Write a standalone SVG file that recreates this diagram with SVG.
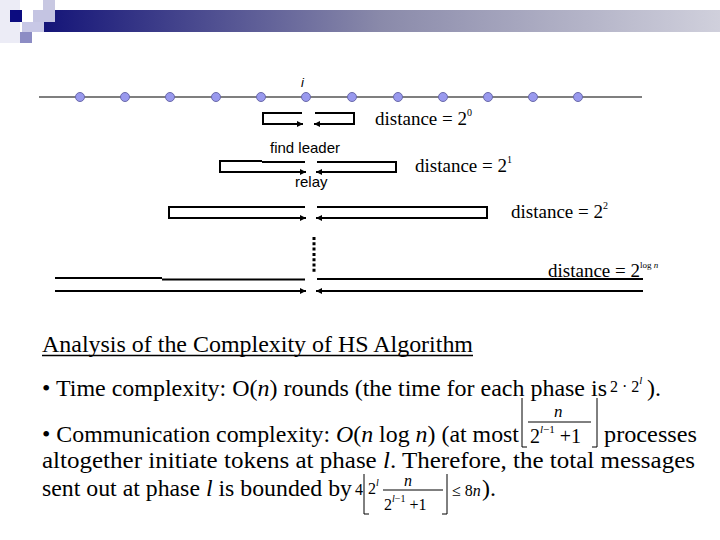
<svg xmlns="http://www.w3.org/2000/svg" width="720" height="540" viewBox="0 0 720 540">
<style>
.ln{fill:none;stroke:#000;stroke-width:2}
.nd{fill:#9999ee;stroke:#6a6aaa;stroke-width:1}
.lab{font-family:"Liberation Sans",Arial,sans-serif;font-size:15px;fill:#000}
.dist{font-family:"Liberation Serif","Times New Roman",serif;font-size:19px;fill:#000}
.sup{font-size:10px}
.tx{font-family:"Liberation Serif","Times New Roman",serif;font-size:24px;fill:#000}
.fm{font-family:"Liberation Serif","Times New Roman",serif;fill:#000}
.br{fill:none;stroke:#000;stroke-width:1}
</style>
<defs>
<linearGradient id="bar" x1="0" y1="0" x2="1" y2="0">
<stop offset="0" stop-color="#141478"/>
<stop offset="0.5" stop-color="#8a8aaa"/>
<stop offset="1" stop-color="#d0d0dc"/>
</linearGradient>
<marker id="ah" markerUnits="userSpaceOnUse" markerWidth="8" markerHeight="8" refX="6" refY="4" orient="auto">
<path d="M0,1 L6,4 L0,7 Z" fill="#000"/>
</marker>
</defs>
<rect width="720" height="540" fill="#fff"/>
<g id="banner">
<rect x="0" y="0" width="20" height="43" fill="#ececf6"/>
<rect x="43" y="10" width="677" height="22" fill="url(#bar)"/>
<rect x="43" y="0" width="12" height="10" fill="#c8c8e2"/>
<rect x="33" y="10" width="22" height="12" fill="#c4c4e2"/>
<rect x="22" y="22" width="22" height="10" fill="#c8c8e6"/>
<rect x="10" y="10" width="12" height="12" fill="#0c0c80"/>
<rect x="20" y="32" width="12" height="11" fill="#8c8cc4"/>
</g>
<g id="ring">
<line x1="39" y1="97" x2="642" y2="97" stroke="#000" stroke-width="1.2"/>
<circle class="nd" cx="80" cy="97" r="4.5"/>
<circle class="nd" cx="125" cy="97" r="4.5"/>
<circle class="nd" cx="170" cy="97" r="4.5"/>
<circle class="nd" cx="216" cy="97" r="4.5"/>
<circle class="nd" cx="261" cy="97" r="4.5"/>
<circle class="nd" cx="306" cy="97" r="4.5"/>
<circle class="nd" cx="352" cy="97" r="4.5"/>
<circle class="nd" cx="398" cy="97" r="4.5"/>
<circle class="nd" cx="443" cy="97" r="4.5"/>
<circle class="nd" cx="488" cy="97" r="4.5"/>
<circle class="nd" cx="533" cy="97" r="4.5"/>
<circle class="nd" cx="578" cy="97" r="4.5"/>
<text x="301" y="87" class="lab" font-style="italic" style="font-size:13px">i</text>
</g>
<g id="connectors">
<path class="ln" d="M302,113 H263 V124 H303" marker-end="url(#ah)"/>
<path class="ln" d="M315,113 H354 V124 H314" marker-end="url(#ah)"/>
<path class="ln" d="M305,162 H262 M262,161 H220 V172 H306" marker-end="url(#ah)"/>
<path class="ln" d="M317,162 H396 V172 H316" marker-end="url(#ah)"/>
<path class="ln" d="M305,207 H169 V218 H306" marker-end="url(#ah)"/>
<path class="ln" d="M317,207 H487 V218 H316" marker-end="url(#ah)"/>
<line x1="314" y1="237" x2="314" y2="274" stroke="#000" stroke-width="3" stroke-dasharray="3,2.3"/>
<path class="ln" d="M55,278 H162 M162,279.5 H305"/>
<path class="ln" d="M55,291 H306" marker-end="url(#ah)"/>
<path class="ln" d="M317,279 H643"/>
<path class="ln" d="M643,291 H316" marker-end="url(#ah)"/>
</g>
<g id="labels">
<text x="270" y="153" class="lab">find leader</text>
<text x="295" y="187" class="lab">relay</text>
<text x="375" y="125" class="dist">distance = 2<tspan class="sup" dy="-9">0</tspan></text>
<text x="415" y="172" class="dist">distance = 2<tspan class="sup" dy="-9">1</tspan></text>
<text x="511" y="218" class="dist">distance = 2<tspan class="sup" dy="-9">2</tspan></text>
<text x="548" y="277" class="dist">distance = 2<tspan font-size="9" dy="-9">log <tspan font-style="italic">n</tspan></tspan></text>
</g>
<g id="analysis">
<text x="42" y="352" class="tx" textLength="431" lengthAdjust="spacingAndGlyphs">Analysis of the Complexity of HS Algorithm</text>
<line x1="42" y1="355.5" x2="473" y2="355.5" stroke="#000" stroke-width="1.3"/>
<text x="42" y="396" class="tx" textLength="565" lengthAdjust="spacingAndGlyphs">• Time complexity: O(<tspan font-style="italic">n</tspan>) rounds (the time for each phase is</text>
<text x="610" y="392" class="fm" style="font-size:16px">2 · 2<tspan font-size="11" font-style="italic" dy="-8">l</tspan></text>
<text x="647" y="396" class="tx">).</text>
<text x="42" y="442" class="tx" textLength="477" lengthAdjust="spacingAndGlyphs">• Communication complexity: <tspan font-style="italic">O</tspan>(<tspan font-style="italic">n</tspan> log <tspan font-style="italic">n</tspan>) (at most</text>
<path class="br" d="M522,398 V447 H527 M597,398 V447 H592"/>
<text x="554" y="417" class="fm" font-style="italic" style="font-size:17px">n</text>
<line x1="528" y1="422" x2="591" y2="422" stroke="#000" stroke-width="1"/>
<text x="530" y="443" class="fm" style="font-size:20px">2<tspan font-size="11" dy="-10"><tspan font-style="italic">l</tspan>−1</tspan><tspan dy="10"> +1</tspan></text>
<text x="604" y="442" class="tx" textLength="93" lengthAdjust="spacingAndGlyphs">processes</text>
<text x="42" y="468" class="tx" textLength="653" lengthAdjust="spacingAndGlyphs">altogether initiate tokens at phase <tspan font-style="italic">l</tspan>. Therefore, the total messages</text>
<text x="42" y="496" class="tx" textLength="310" lengthAdjust="spacingAndGlyphs">sent out at phase <tspan font-style="italic">l</tspan> is bounded by</text>
<text x="355" y="495" class="fm" style="font-size:16px">4</text>
<path class="br" d="M364,474 V514 H369 M447,474 V514 H442"/>
<text x="368" y="494" class="fm" style="font-size:16px">2<tspan font-size="10" font-style="italic" dy="-8">l</tspan></text>
<text x="404" y="486" class="fm" font-style="italic" style="font-size:16px">n</text>
<line x1="383" y1="490" x2="443" y2="490" stroke="#000" stroke-width="1"/>
<text x="384" y="510" class="fm" style="font-size:16px">2<tspan font-size="10" dy="-8"><tspan font-style="italic">l</tspan>−1</tspan><tspan dy="8"> +1</tspan></text>
<text x="452" y="496" class="fm" style="font-size:16px">≤ 8<tspan font-style="italic">n</tspan></text>
<text x="482" y="496" class="tx">).</text>
</g>
</svg>
